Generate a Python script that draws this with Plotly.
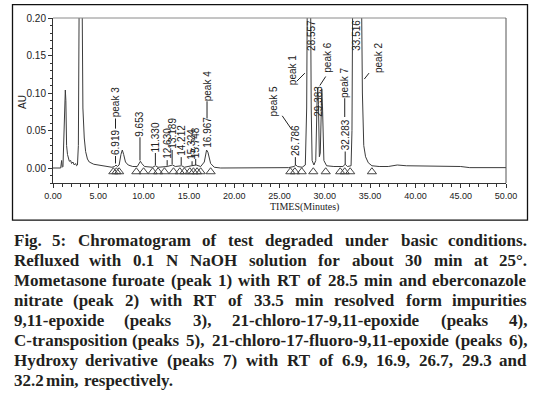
import plotly.graph_objects as go

# ---------------- data ----------------
time_min = [0.0, 0.5, 0.85, 0.95, 1.02, 1.1, 1.2, 1.3, 1.36, 1.42, 1.5, 1.6, 1.7, 1.8, 1.95,
            2.05, 2.2, 2.35, 2.5, 2.6, 2.7, 2.8, 2.9, 3.0, 3.1, 3.2, 3.3, 3.45, 3.6, 3.8,
            4.0, 4.5, 5.0, 5.5, 6.0, 6.5, 6.8, 6.95, 7.1, 7.3, 7.5, 7.65, 7.8, 8.0, 8.3,
            8.8, 9.3, 9.5, 9.65, 9.8, 10.1, 11.0, 11.3, 11.6, 12.6, 13.2, 13.5, 14.2, 14.5,
            15.3, 15.8, 16.3, 16.7, 16.95, 17.1, 17.4, 17.8, 18.5, 20.0, 22.0, 24.0, 26.0,
            26.6, 26.8, 27.0, 27.5, 27.85, 28.0, 28.1, 28.4, 28.5, 28.6, 28.8, 29.0, 29.15,
            29.22, 29.3, 29.4, 29.5, 29.6, 29.67, 29.75, 29.9, 30.2, 31.0, 32.0, 32.25, 32.5,
            32.9, 33.0, 33.15, 33.5, 34.0, 34.15, 34.3, 34.5, 34.8, 35.2, 36.0, 37.0, 38.0,
            39.0, 40.0, 42.0, 44.0, 45.0, 46.0, 50.0]
absorbance_au = [0.0, 0.0, 0.0, 0.010, 0.001, 0.002, 0.040, 0.095, 0.104, 0.090, 0.030, 0.018,
                 0.012, 0.009, 0.010, 0.006, 0.008, 0.004, 0.006, 0.003, 0.004, 0.030, 0.25,
                 0.40, 0.40, 0.25, 0.08, 0.040, 0.022, 0.012, 0.008, 0.005, 0.004, 0.003,
                 0.002, 0.001, 0.002, 0.004, 0.002, 0.004, 0.018, 0.024, 0.018, 0.008, 0.004,
                 0.002, 0.002, 0.006, 0.009, 0.006, 0.002, 0.001, 0.003, 0.001, 0.002, 0.004,
                 0.002, 0.003, 0.001, 0.003, 0.004, 0.002, 0.008, 0.024, 0.021, 0.006, 0.001,
                 0.0, 0.0, 0.0005, 0.0005, 0.0005, 0.002, 0.004, 0.002, 0.001, 0.004, 0.08,
                 0.30, 0.30, 0.08, 0.010, 0.004, 0.010, 0.090, 0.107, 0.085, 0.015, 0.020,
                 0.095, 0.105, 0.080, 0.010, 0.003, 0.002, 0.002, 0.005, 0.002, 0.003, 0.050,
                 0.40, 0.50, 0.30, 0.10, 0.030, 0.015, 0.007, 0.003, 0.002, 0.002, 0.004,
                 0.003, 0.003, 0.003, 0.003, 0.002, 0.0005, 0.0005]

integration_marks_min = [6.66, 7.0, 7.3, 9.2, 10.0, 11.0, 11.6, 12.3, 13.3, 14.0, 14.5, 15.1,
                         15.5, 15.9, 16.3, 17.4, 26.2, 26.7, 27.45, 28.73, 30.1, 31.7, 32.2,
                         32.8, 35.2]
integration_level_au = -0.005

rt_labels = ["6.919", "9.653", "11.330", "12.630", "13.189", "14.212", "15.324", "15.748",
             "16.967", "26.786", "29.383", "32.283"]
rt_label_times = [6.9, 9.6, 11.3, 12.6, 13.15, 14.15, 15.35, 15.75, 16.97, 26.75, 29.3, 32.25]
offscale_labels = ["28.557", "33.516"]
offscale_label_times = [28.55, 33.5]
peak_names = ["peak 3", "peak 4", "peak 7", "peak 5", "peak 1", "peak 6", "peak 2"]

x_ticks = [0, 5, 10, 15, 20, 25, 30, 35, 40, 45, 50]
y_ticks = [0.0, 0.05, 0.10, 0.15, 0.20]

caption_lines = [
    "Fig. 5: Chromatogram of test degraded under basic conditions.",
    "Refluxed with 0.1 N NaOH solution for about 30 min at 25°.",
    "Mometasone furoate (peak 1) with RT of 28.5 min and eberconazole",
    "nitrate (peak 2) with RT of 33.5 min resolved form impurities",
    "9,11-epoxide (peaks 3), 21-chloro-17-9,11-epoxide (peaks 4),",
    "C-transposition (peaks 5), 21-chloro-17-fluoro-9,11-epoxide (peaks 6),",
    "Hydroxy derivative (peaks 7) with RT of 6.9, 16.9, 26.7, 29.3 and",
    "32.2 min, respectively.",
]

# ---------------- layout geometry ----------------
W, H = 548, 393
ML, MR, MT, MB = 53, 42, 16, 210
PW, PH = W - ML - MR, H - MT - MB
INK = "#222222"
LINE = "#3c3c3c"
SANS = "Liberation Sans, Arial, sans-serif"
SERIF = "Liberation Serif, Times New Roman, serif"


def pxx(px):
    return (px - ML) / PW


def pxy(py):
    return (H - MB - py) / PH


fig = go.Figure()
fig.add_trace(go.Scatter(x=time_min, y=absorbance_au, mode="lines",
                         line=dict(color=LINE, width=1), hoverinfo="skip",
                         showlegend=False))
fig.add_trace(go.Scatter(x=integration_marks_min,
                         y=[integration_level_au] * len(integration_marks_min),
                         mode="markers", cliponaxis=False,
                         marker=dict(symbol="triangle-up-open", size=8,
                                     color="#444444", line=dict(width=1)),
                         hoverinfo="skip", showlegend=False))

annotations = []
shapes = []

# retention-time labels (rotated), bottom anchored above each peak
rt_bottom = [0.016, 0.041, 0.020, 0.0105, 0.024, 0.0145, 0.009, 0.012, 0.026, 0.0145, 0.067, 0.022]
rt_leader_from = [0.006, 0.010, 0.004, 0.003, 0.005, 0.004, 0.003, 0.004, None, 0.004, None, 0.005]
for txt, t, yb, yl in zip(rt_labels, rt_label_times, rt_bottom, rt_leader_from):
    annotations.append(dict(x=t, y=yb, xref="x", yref="y", text=txt, textangle=-90,
                            showarrow=False, xanchor="center", yanchor="bottom",
                            font=dict(family=SANS, size=10, color=INK), borderpad=0))
    if yl is not None:
        shapes.append(dict(type="line", xref="x", yref="y", x0=t, x1=t, y0=yl, y1=yb,
                           line=dict(color=INK, width=1)))
for txt, t in zip(offscale_labels, offscale_label_times):
    annotations.append(dict(x=t, y=0.199, xref="x", yref="y", text=txt, textangle=-90,
                            showarrow=False, xanchor="center", yanchor="top",
                            font=dict(family=SANS, size=10, color=INK), borderpad=0))

# peak name labels
name_pos = [(6.9, 0.087), (17.0, 0.109), (32.2, 0.113), (24.3, 0.089),
            (26.45, 0.130), (30.35, 0.147), (35.9, 0.147)]
for txt, (t, yc) in zip(peak_names, name_pos):
    annotations.append(dict(x=t, y=yc, xref="x", yref="y", text=txt, textangle=-90,
                            showarrow=False, xanchor="center", yanchor="middle",
                            font=dict(family=SANS, size=10, color=INK), borderpad=0))
# leaders from names to labels
for (t, y0, y1) in [(6.9, 0.066, 0.0525), (17.0, 0.089, 0.066), (32.2, 0.093, 0.068)]:
    shapes.append(dict(type="line", xref="x", yref="y", x0=t, x1=t, y0=y0, y1=y1,
                       line=dict(color=INK, width=1)))
for (t0, y0, t1, y1) in [(25.3, 0.0696, 26.35, 0.0512), (26.9, 0.1156, 27.8, 0.1265),
                         (29.45, 0.110, 30.1, 0.122), (34.36, 0.1186, 34.88, 0.1265)]:
    shapes.append(dict(type="line", xref="x", yref="y", x0=t0, x1=t1, y0=y0, y1=y1,
                       line=dict(color=INK, width=1)))

# axis titles
annotations.append(dict(x=pxx(23), y=pxy(101), xref="paper", yref="paper", text="AU",
                        textangle=-90, showarrow=False, xanchor="center", yanchor="middle",
                        font=dict(family=SANS, size=10, color=INK)))
annotations.append(dict(x=pxx(304), y=pxy(207), xref="paper", yref="paper",
                        text="TIMES(Minutes)", showarrow=False, xanchor="center",
                        yanchor="middle", font=dict(family=SERIF, size=10, color=INK)))

# plot frame: lighter top, darker right
shapes.append(dict(type="line", xref="paper", yref="paper", x0=0, x1=1, y0=1, y1=1,
                   line=dict(color="#8a8a8a", width=1)))
shapes.append(dict(type="line", xref="paper", yref="paper", x0=1, x1=1, y0=0, y1=1,
                   line=dict(color="#555555", width=1)))

# outer frame
shapes.append(dict(type="rect", xref="paper", yref="paper", x0=pxx(12.5), x1=pxx(527.5),
                   y0=pxy(220.5), y1=pxy(2.5), line=dict(color="#111111", width=1.3),
                   layer="below"))

# ---------------- caption (justified) ----------------
TB = {" ": 250, "!": 333, "(": 333, ")": 333, ",": 250, "-": 333, ".": 250, ":": 333,
      "°": 400}
for d in "0123456789":
    TB[d] = 500
TB.update(dict(A=722, B=667, C=722, D=722, E=667, F=611, G=778, H=778, I=389, J=500,
               K=778, L=667, M=944, N=722, O=778, P=611, Q=778, R=722, S=556, T=667,
               U=722, V=722, W=1000, X=722, Y=722, Z=667))
TB.update(dict(a=500, b=556, c=444, d=556, e=444, f=333, g=500, h=556, i=278, j=333,
               k=556, l=278, m=833, n=556, o=500, p=556, q=556, r=444, s=389, t=333,
               u=556, v=500, w=722, x=500, y=500, z=444))
CAP_FS = 17
CAP_L, CAP_R = 12.5, 528.0


def tw(s):
    return sum(TB.get(ch, 500) for ch in s) * CAP_FS / 1000.0


for i, line in enumerate(caption_lines):
    cy = 241.0 + i * 20.2
    words = line.split(" ")
    widths = [tw(wd) for wd in words]
    if i < len(caption_lines) - 1:
        gap = (CAP_R - CAP_L - sum(widths)) / (len(words) - 1)
    else:
        gap = tw(" ")
    xpos = CAP_L
    for j, (wd, wdt) in enumerate(zip(words, widths)):
        if j == 0:
            ax, anc = xpos, "left"
        elif j == len(words) - 1 and i < len(caption_lines) - 1:
            ax, anc = CAP_R, "right"
        else:
            ax, anc = xpos + wdt / 2, "center"
        annotations.append(dict(x=pxx(ax), y=pxy(cy), xref="paper", yref="paper", text=wd,
                                showarrow=False, xanchor=anc, yanchor="middle", borderpad=0,
                                font=dict(family=SERIF, size=CAP_FS, color="#231f20",
                                          weight=700)))
        xpos += wdt + gap

fig.update_layout(
    width=W, height=H, margin=dict(l=ML, r=MR, t=MT, b=MB),
    paper_bgcolor="white", plot_bgcolor="white", showlegend=False,
    annotations=annotations, shapes=shapes,
    xaxis=dict(range=[0, 50], tickvals=x_ticks, tickformat=".2f", showgrid=False,
               zeroline=False, showline=True, linecolor="#333", linewidth=1,
               ticks="outside", ticklen=4, tickcolor="#333", tickwidth=1,
               minor=dict(dtick=1, ticks="outside", ticklen=3, tickcolor="#333"),
               tickfont=dict(family=SANS, size=9, color=INK)),
    yaxis=dict(range=[-0.02, 0.20], tickvals=y_ticks, tickformat=".2f", showgrid=False,
               zeroline=False, showline=True, linecolor="#333", linewidth=1,
               ticks="outside", ticklen=4, tickcolor="#333", tickwidth=1,
               minor=dict(dtick=0.01, ticks="outside", ticklen=2, tickcolor="#333"),
               tickfont=dict(family=SANS, size=10, color=INK)),
)

fig.write_html("out.html", config={"displayModeBar": False},
               post_script="document.body.style.margin='0';document.body.style.overflow='hidden';")
